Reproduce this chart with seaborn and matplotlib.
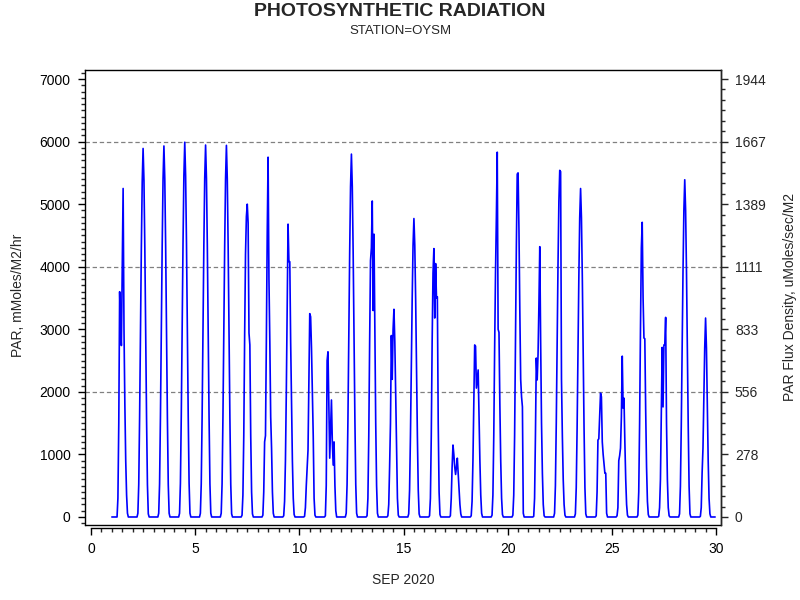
import numpy as np
import pandas as pd
import seaborn as sns
import matplotlib.pyplot as plt
from matplotlib import font_manager
from matplotlib.lines import Line2D
from matplotlib.ticker import MultipleLocator, FixedLocator

# hourly PAR (mMoles/M2/hr) for daylight hours 06..18, night hours are 0
daylight_hours = list(range(6, 19))
d01 = [0, 300, 1500, 3600, 3000, 2740, 4000, 5250, 3000, 1800, 900, 350, 60]
d02 = [60, 520, 1600, 2960, 4310, 5360, 5890, 5380, 4300, 2940, 1580, 520, 50]
d03 = [60, 530, 1610, 2970, 4330, 5400, 5930, 5400, 4320, 2960, 1590, 520, 60]
d04 = [60, 540, 1620, 3000, 4370, 5450, 5990, 5450, 4370, 2990, 1610, 540, 60]
d05 = [60, 530, 1600, 2970, 4340, 5410, 5945, 5410, 4340, 2970, 1600, 530, 60]
d06 = [60, 530, 1600, 2970, 4330, 5400, 5940, 5400, 4320, 2960, 1590, 520, 50]
d07 = [30, 350, 1300, 2900, 4200, 4800, 5000, 4700, 2940, 2750, 1300, 400, 50]
d08 = [30, 400, 1200, 1300, 2800, 4500, 5750, 3800, 2800, 1600, 1100, 400, 60]
d09 = [20, 250, 900, 2000, 3400, 4680, 4080, 4080, 2800, 1800, 900, 300, 40]
d10 = [10, 150, 500, 800, 1070, 2200, 3250, 3200, 2700, 2000, 1300, 300, 30]
d11 = [20, 500, 2500, 2640, 1800, 940, 1400, 1870, 1200, 830, 1200, 500, 100]
d12 = [60, 520, 1570, 2900, 4230, 5280, 5800, 5280, 4230, 2900, 1570, 520, 60]
d13 = [20, 300, 1300, 2800, 4100, 4300, 5050, 3300, 4520, 3000, 1500, 500, 60]
d14 = [20, 200, 800, 1500, 2900, 2200, 3000, 3320, 2800, 2000, 1100, 300, 30]
d15 = [50, 430, 1290, 2390, 3480, 4340, 4770, 4340, 3480, 2390, 1290, 430, 50]
d16 = [20, 300, 1300, 2800, 3900, 4290, 3180, 4050, 3500, 3520, 1500, 400, 40]
d17 = [20, 300, 800, 1150, 1000, 800, 680, 800, 940, 700, 450, 200, 50]
d18 = [20, 250, 900, 1800, 2750, 2730, 2060, 2200, 2350, 1600, 900, 350, 60]
d19 = [30, 350, 1300, 2700, 3900, 4800, 5830, 3000, 2950, 1800, 900, 300, 40]
d20 = [30, 350, 1300, 2800, 4300, 5480, 5500, 4600, 3300, 2200, 1920, 1760, 60]
d21 = [10, 300, 1300, 2540, 2190, 2600, 3400, 4320, 2800, 1500, 700, 200, 20]
d22 = [60, 500, 1500, 2770, 4040, 5040, 5540, 5520, 2200, 1300, 600, 200, 30]
d23 = [50, 470, 1420, 2630, 3830, 4780, 5250, 4780, 3830, 2630, 1420, 470, 50]
d24 = [20, 400, 1230, 1250, 1600, 1980, 1920, 1200, 1000, 850, 700, 700, 60]
d25 = [20, 150, 900, 980, 1100, 1600, 2570, 1740, 1900, 1200, 600, 200, 30]
d26 = [30, 400, 1500, 3000, 4300, 4710, 3500, 2860, 2850, 1700, 800, 250, 40]
d27 = [10, 150, 600, 1600, 2710, 1760, 2750, 2750, 3190, 1500, 600, 150, 20]
d28 = [50, 490, 1460, 2700, 3930, 4900, 5390, 4900, 3930, 2700, 1460, 490, 50]
d29 = [10, 150, 700, 1100, 1900, 2700, 3180, 2700, 1800, 900, 300, 50, 0]

left_ticks = [0, 1000, 2000, 3000, 4000, 5000, 6000, 7000]
right_labels = ["0", "278", "556", "833", "1111", "1389", "1667", "1944"]
grid_levels = [2000, 4000, 6000]

daily = [d01, d02, d03, d04, d05, d06, d07, d08, d09, d10, d11, d12, d13, d14, d15,
         d16, d17, d18, d19, d20, d21, d22, d23, d24, d25, d26, d27, d28, d29]

rows = []
for i, vals in enumerate(daily):
    day = i + 1
    for hr in range(24):
        v = vals[daylight_hours.index(hr)] if hr in daylight_hours else 0
        rows.append({"day": day + hr / 24, "par": v})
df = pd.DataFrame(rows)

sns.set_style("ticks")
plt.rcParams['font.family'] = ['Liberation Sans', 'DejaVu Sans']
names = {f.name for f in font_manager.fontManager.ttflist}
narrow = 'Liberation Sans Narrow' if 'Liberation Sans Narrow' in names else 'Liberation Sans'

fig = plt.figure(figsize=(8, 6), dpi=100)
ax = fig.add_axes([85/800, 1 - 525/600, 636/800, 455/600])

for g in grid_levels:
    ax.axhline(g, color='#808080', lw=0.9, ls=(0, (3.5, 2.2)), zorder=1)

sns.lineplot(data=df, x='day', y='par', ax=ax, color='#0000ff', lw=1.2,
             estimator=None, sort=False, zorder=3)

ax.set_xlim(-6/20.82, 30 + 5/20.82)
ax.set_ylim(-128, 7144)

# detached x axis below the frame
ax.spines['bottom'].set_position(('outward', 2.2))
ax.spines['bottom'].set_bounds(0, 30)
ax.add_line(Line2D([0, 1], [0, 0], transform=ax.transAxes, color='black',
                   lw=1, clip_on=False))
for s in ax.spines.values():
    s.set_linewidth(1)
    s.set_color('black')

ax.xaxis.set_major_locator(MultipleLocator(5))
ax.xaxis.set_minor_locator(MultipleLocator(0.5))
ax.yaxis.set_major_locator(FixedLocator(left_ticks))
ax.yaxis.set_minor_locator(MultipleLocator(100))
ax.tick_params(axis='both', which='major', length=5, width=1, labelsize=10,
               colors='black')
ax.tick_params(axis='x', which='major', pad=5)
ax.tick_params(axis='y', which='major', pad=5.5)
ax.tick_params(axis='both', which='minor', length=2.6, width=1)
ax.set_xlabel('')
ax.set_ylabel('')

ax2 = ax.twinx()
ax2.set_ylim(-128/3.6, 7144/3.6)
ax2.yaxis.set_major_locator(FixedLocator([t/3.6 for t in left_ticks]))
ax2.set_yticklabels(right_labels)
ax2.yaxis.set_minor_locator(MultipleLocator(1000/3.6/6))
ax2.tick_params(axis='y', which='major', length=5, width=1, labelsize=10, pad=5)
ax2.tick_params(axis='y', which='minor', length=2.6, width=1)
for side in ['top', 'bottom', 'left']:
    ax2.spines[side].set_visible(False)
ax2.spines['right'].set_linewidth(1)

fig.text(0.5, 1 - 11.5/600, 'PHOTOSYNTHETIC RADIATION', ha='center', va='center',
         fontsize=14, fontweight='bold', family=[narrow, 'DejaVu Sans'])
fig.text(0.5, 1 - 31/600, 'STATION=OYSM', ha='center', va='center',
         fontsize=9.5, family=[narrow, 'DejaVu Sans'])
fig.text(403/800, 1 - 580/600, 'SEP 2020', ha='center', va='center', fontsize=10)
fig.text(18/800, 1 - 295/600, 'PAR, mMoles/M2/hr', ha='center', va='center',
         rotation=90, fontsize=10)
fig.text(790/800, 1 - 297/600, 'PAR Flux Density, uMoles/sec/M2', ha='center',
         va='center', rotation=90, fontsize=10)

fig.savefig('out.png', dpi=100)
